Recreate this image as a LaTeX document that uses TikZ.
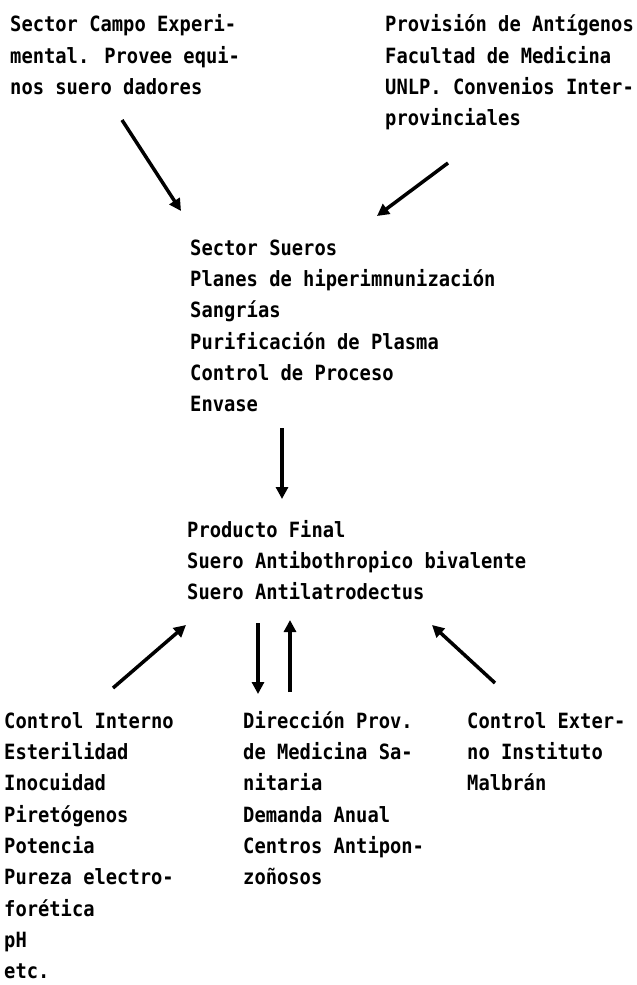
\documentclass[tikz,border=0pt]{standalone}
\usepackage{fontspec}
\newfontfamily\dm[FakeStretch=0.894]{DejaVu Sans Mono}
\usetikzlibrary{arrows.meta}
\tikzset{
  txt/.style={anchor=north west, inner sep=0pt, align=left,
    font=\dm\bfseries\fontsize{21}{31.3}\selectfont},
  arr/.style={line width=3.5pt, -{Triangle[length=12pt,width=12pt]}}
}
\newcommand\fs{\rule{0pt}{22pt}}
\begin{document}
\begin{tikzpicture}[x=1pt,y={(0,-1pt)}]
\useasboundingbox[fill=white] (0,0) rectangle (637,985);
\node[txt] (campo) at (10,9.5) {\fs Sector Campo Experi-\\mental. Provee equi-\\nos suero dadores};
\node[txt] (antig) at (385,9.5) {\fs Provisión de Antígenos\\Facultad de Medicina\\UNLP. Convenios Inter-\\provinciales};
\node[txt] (sueros) at (190,233) {\fs Sector Sueros\\Planes de hiperimnunización\\Sangrías\\Purificación de Plasma\\Control de Proceso\\Envase};
\node[txt] (prod) at (187,515) {\fs Producto Final\\Suero Antibothropico bivalente\\Suero Antilatrodectus};
\node[txt] (cint) at (4,706) {\fs Control Interno\\Esterilidad\\Inocuidad\\Piretógenos\\Potencia\\Pureza electro-\\forética\\pH\\etc.};
\node[txt] (dir) at (243,706) {\fs Dirección Prov.\\de Medicina Sa-\\nitaria\\Demanda Anual\\Centros Antipon-\\zoñosos};
\node[txt] (cext) at (467,706) {\fs Control Exter-\\no Instituto\\Malbrán};
\coordinate (a1s) at (122,120); \coordinate (a1e) at (181,211);
\coordinate (a2s) at (448,163); \coordinate (a2e) at (377,216);
\coordinate (a3s) at (282,428); \coordinate (a3e) at (282,499);
\coordinate (a4s) at (113,688); \coordinate (a4e) at (186,625);
\coordinate (a5s) at (258,623); \coordinate (a5e) at (258,694);
\coordinate (a6s) at (290,692); \coordinate (a6e) at (290,620);
\coordinate (a7s) at (495,683); \coordinate (a7e) at (432,625);
\draw[arr] (a1s) -- (a1e);
\draw[arr] (a2s) -- (a2e);
\draw[arr] (a3s) -- (a3e);
\draw[arr] (a4s) -- (a4e);
\draw[arr] (a5s) -- (a5e);
\draw[arr] (a6s) -- (a6e);
\draw[arr] (a7s) -- (a7e);
\end{tikzpicture}
\end{document}
